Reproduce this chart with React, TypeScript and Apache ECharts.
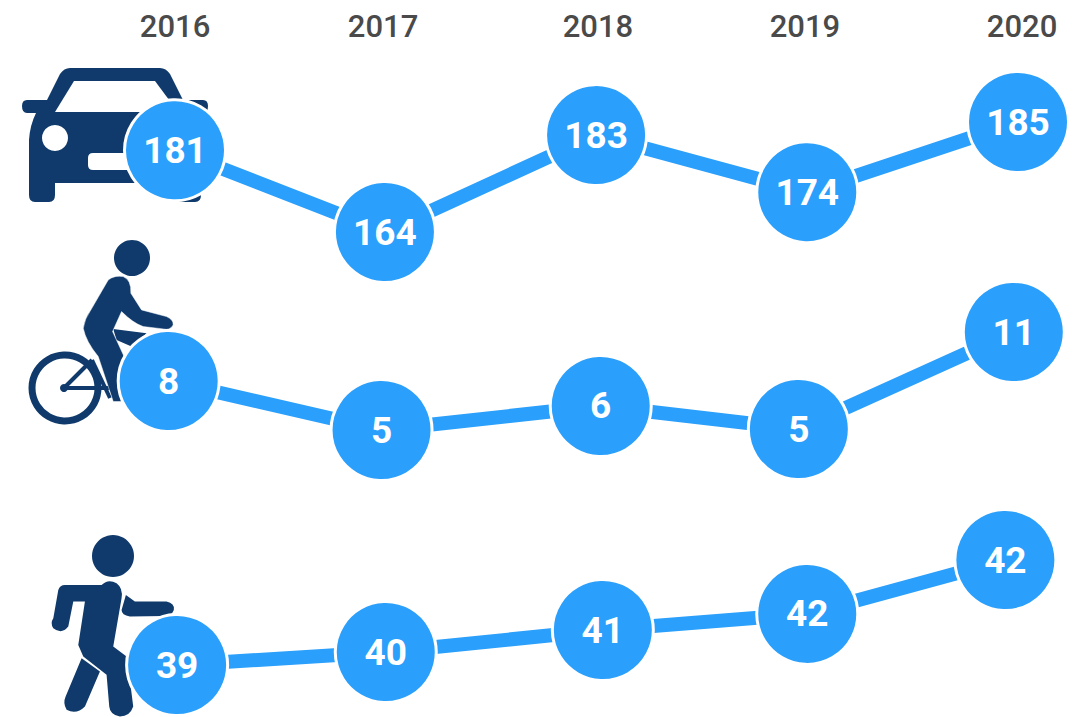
import React, { useEffect, useRef } from "react";
import * as echarts from "echarts";

const years = ["2016", "2017", "2018", "2019", "2020"];
const yearLabelX = [2016, 2016.987, 2018.007, 2018.989, 2020.019];

// Values printed in the circles
const carValues = [181, 164, 183, 174, 185];
const bikeValues = [8, 5, 6, 5, 11];
const walkValues = [39, 40, 41, 42, 42];

const carX = [2016, 2016.996, 2017.998, 2019, 2020];
const carHeight = [179.6, 164, 182.5, 171.6, 185];
const bikeX = [2015.97, 2016.98, 2018.02, 2018.96, 2019.98];
const bikeHeight = [8, 5, 6.47, 5.06, 11];
const walkX = [2016.01, 2017, 2018.03, 2019, 2019.94];
const walkHeight = [39, 39.37, 40, 40.46, 42];

const NAVY = "#0f3a6b";
const BLUE = "#2a9ffb";

const CAR_BODY =
  "M70 68 H160 Q166 68 170 74 L183 100 H203 Q208 100 208 106 Q208 113 203 113 H194 Q200 125 201 140 V195 Q201 202 195 202 H181 Q175 202 175 195 V183 H55 V195 Q55 202 49 202 H35 Q29 202 29 195 V140 Q30 125 36 113 H27 Q22 113 22 106 Q22 100 27 100 H47 L60 74 Q64 68 70 68 Z";
const CAR_WINDOW = "M74 81 H155 L178 112 H55 Z";
const CAR_GRILLE = "M93 153 H137 Q142 153 142 158 V165 Q142 170 137 170 H93 Q88 170 88 165 V158 Q88 153 93 153 Z";
const RIDER =
  "M325 165 Q345 150 370 155 Q395 165 393 205 L425 255 L500 275 Q522 285 520 300 Q510 318 490 312 L430 305 Q400 295 365 260 L338 320 L375 400 L375 530 L340 530 L295 395 Q258 350 250 310 Q255 280 270 260 Z";
const SADDLE = "M340 312 L440 325 L395 365 L350 345 Z";
const WALKER =
  "M135 195 L245 195 Q265 175 290 190 Q310 205 305 235 L280 380 L320 410 Q330 430 325 440 L340 560 Q330 590 300 590 Q270 585 268 560 L260 465 L190 410 L175 375 L195 245 L160 245 L145 320 Q125 345 100 325 Q90 310 100 295 L115 210 Q120 195 135 195 Z";
const WALKER_ARM =
  "M318 225 L345 245 L440 245 Q465 250 462 270 Q455 288 435 288 L330 290 Q305 285 305 270 Z";
const WALKER_LEG = "M185 415 L240 455 L195 560 Q170 585 140 570 Q128 550 137 530 Z";

const shapes: Record<string, string> = {
  carBody: CAR_BODY,
  carWindow: CAR_WINDOW,
  carGrille: CAR_GRILLE,
  rider: RIDER,
  saddle: SADDLE,
  walker: WALKER,
  walkerArm: WALKER_ARM,
  walkerLeg: WALKER_LEG,
};
Object.keys(shapes).forEach((k) => {
  echarts.graphic.registerShape(k, (echarts.graphic as any).extendPath(shapes[k], {}));
});

const pts = (xs: number[], hs: number[], vals: number[]) =>
  xs.map((x, i) => ({ value: [x, hs[i]], label: vals[i] }));

function rowSeries(name: string, idx: number, xs: number[], hs: number[], vals: number[]) {
  return {
    name,
    type: "line",
    xAxisIndex: idx,
    yAxisIndex: idx,
    data: pts(xs, hs, vals),
    symbol: "circle",
    symbolSize: 101,
    clip: false,
    z: 5,
    lineStyle: { color: BLUE, width: 14 },
    itemStyle: { color: BLUE, borderColor: "#ffffff", borderWidth: 3, opacity: 1 },
    label: {
      show: true,
      position: "inside",
      color: "#ffffff",
      fontFamily: "Roboto",
      fontWeight: "bold",
      fontSize: 37,
      formatter: (p: any) => String(p.data.label),
    },
    emphasis: { disabled: true },
  };
}

const X_MIN = 2015.1696;
const X_MAX = 2020.2894;

const hiddenX = (gridIndex: number) => ({
  type: "value",
  gridIndex,
  min: X_MIN,
  max: X_MAX,
  show: false,
});
const hiddenY = (gridIndex: number, min: number, max: number) => ({
  type: "value",
  gridIndex,
  min,
  max,
  show: false,
});

function iconGraphics() {
  const third = 1 / 3;
  const dark = { fill: NAVY };
  const white = { fill: "#ffffff" };
  return [
    { type: "carBody", x: 0, y: 0, style: dark, z: 1 },
    { type: "carWindow", x: 0, y: 0, style: white, z: 2 },
    { type: "carGrille", x: 0, y: 0, style: white, z: 2 },
    { type: "circle", shape: { cx: 55, cy: 138, r: 13 }, style: white, z: 2 },

    { type: "circle", shape: { cx: 132, cy: 258, r: 18 }, style: dark, z: 1 },
    { type: "circle", shape: { cx: 65, cy: 388, r: 33 }, style: { fill: "none", stroke: NAVY, lineWidth: 7 }, z: 1 },
    { type: "circle", shape: { cx: 64, cy: 388, r: 4 }, style: dark, z: 1 },
    { type: "line", shape: { x1: 64, y1: 388, x2: 92, y2: 360 }, style: { stroke: NAVY, lineWidth: 4 }, z: 1 },
    { type: "line", shape: { x1: 64, y1: 388, x2: 110, y2: 388 }, style: { stroke: NAVY, lineWidth: 4 }, z: 1 },
    { type: "line", shape: { x1: 92, y1: 360, x2: 110, y2: 398 }, style: { stroke: NAVY, lineWidth: 4 }, z: 1 },
    { type: "saddle", x: 0, y: 225, scaleX: third, scaleY: third, style: dark, z: 1 },
    { type: "rider", x: 0, y: 225, scaleX: third, scaleY: third, style: { fill: NAVY, stroke: "#ffffff", lineWidth: 1.5 }, z: 2 },

    { type: "circle", shape: { cx: 113, cy: 556, r: 21 }, style: dark, z: 1 },
    { type: "walkerLeg", x: 20, y: 520, scaleX: third, scaleY: third, style: dark, z: 1 },
    { type: "walkerArm", x: 20, y: 520, scaleX: third, scaleY: third, style: dark, z: 1 },
    { type: "walker", x: 20, y: 520, scaleX: third, scaleY: third, style: dark, z: 1 },
  ];
}

export default function App() {
  const ref = useRef<HTMLDivElement>(null);
  useEffect(() => {
    document.body.style.margin = "0";
    const chart = echarts.init(ref.current!, undefined, { renderer: "svg" });
    chart.setOption({
      animation: false,
      backgroundColor: "#ffffff",
      grid: [
        { left: 0, width: 1079, top: 122, height: 110 },
        { left: 0, width: 1079, top: 332, height: 98 },
        { left: 0, width: 1079, top: 560, height: 105 },
        { left: 0, width: 1079, top: 50, height: 1 },
      ],
      xAxis: [
        hiddenX(0),
        hiddenX(1),
        hiddenX(2),
        {
          type: "value",
          gridIndex: 3,
          position: "top",
          min: X_MIN,
          max: X_MAX,
          splitLine: { show: false },
          axisLine: { show: false },
          axisTick: { show: false },
          axisLabel: {
            customValues: yearLabelX,
            formatter: (v: number) => years[yearLabelX.indexOf(v)] ?? "",
            color: "#4a4a4a",
            fontFamily: "Roboto",
            fontWeight: 500,
            fontSize: 31,
            margin: 8,
          },
        },
      ],
      yAxis: [
        hiddenY(0, 164, 185),
        hiddenY(1, 5, 11),
        hiddenY(2, 39, 42),
        { type: "value", gridIndex: 3, show: false },
      ],
      graphic: { elements: iconGraphics() },
      series: [
        rowSeries("Car", 0, carX, carHeight, carValues),
        rowSeries("Bicycle", 1, bikeX, bikeHeight, bikeValues),
        rowSeries("Pedestrian", 2, walkX, walkHeight, walkValues),
      ],
    });
    return () => chart.dispose();
  }, []);
  return <div ref={ref} style={{ width: 1079, height: 717 }} />;
}
